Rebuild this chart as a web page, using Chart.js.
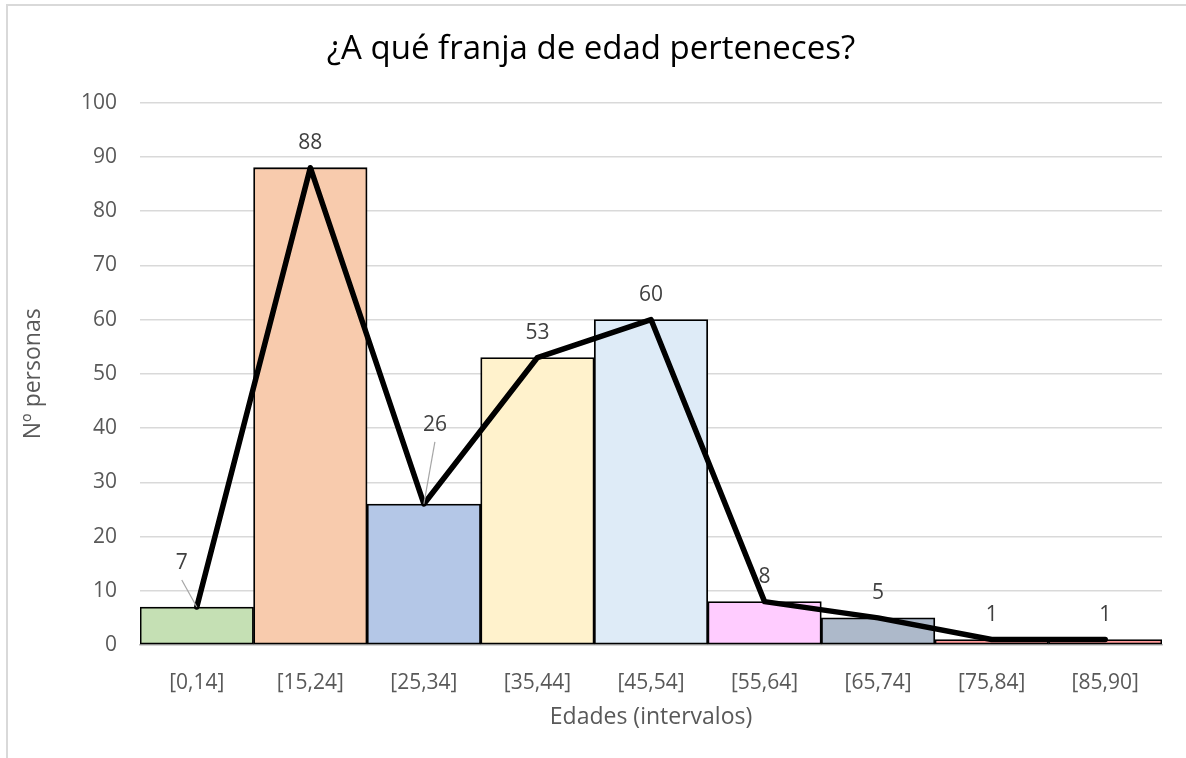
<!DOCTYPE html>
<html>
<head>
<meta charset="utf-8">
<script src="https://cdn.jsdelivr.net/npm/chart.js@4"></script>
<style>
  html, body { margin: 0; padding: 0; background: #fff; overflow: hidden; }
  #frame { position: absolute; left: 6px; top: 4px; width: 1300px; height: 900px; border: 2px solid #d9d9d9; box-sizing: border-box; }
  #myChart { position: absolute; left: 0; top: 0; }
</style>
</head>
<body>
<div id="frame"></div>
<canvas id="myChart" width="1186" height="758"></canvas>
<script>
const categories = ['[0,14]', '[15,24]', '[25,34]', '[35,44]', '[45,54]', '[55,64]', '[65,74]', '[75,84]', '[85,90]'];
const personas = [7, 88, 26, 53, 60, 8, 5, 1, 1];
const barColors = ['#C5E0B4', '#F8CBAD', '#B4C7E7', '#FFF2CC', '#DEEBF7', '#FFCCFF', '#ADB9CA', '#FF9B9B', '#FF9B9B'];

const FONT = "'Open Sans', sans-serif";

// etiquetas de datos encima de los puntos de la linea (dos con linea guia)
const labelOffsets = { 0: [-15, -44, true], 2: [11, -79, true] };
const dataLabels = {
  id: 'dataLabels',
  afterDatasetsDraw(chart) {
    const ctx = chart.ctx;
    const meta = chart.getDatasetMeta(1);
    ctx.save();
    ctx.font = '21px ' + FONT;
    ctx.fillStyle = '#404040';
    ctx.textAlign = 'center';
    ctx.textBaseline = 'middle';
    meta.data.forEach(function (pt, i) {
      const off = labelOffsets[i] || [0, -25, false];
      const lx = pt.x + off[0];
      const ly = pt.y + off[1];
      if (off[2]) {
        ctx.strokeStyle = '#a6a6a6';
        ctx.lineWidth = 1.2;
        ctx.beginPath();
        ctx.moveTo(lx, ly + 17);
        ctx.lineTo(pt.x, pt.y);
        ctx.stroke();
      }
      ctx.fillText(String(personas[i]), lx, ly);
    });
    ctx.restore();
  }
};

const config = {
  data: {
    labels: categories,
    datasets: [
      {
        type: 'bar',
        data: personas,
        backgroundColor: barColors,
        borderColor: '#000',
        borderWidth: 1.8,
        borderSkipped: false,
        categoryPercentage: 1,
        barPercentage: 1,
        order: 2
      },
      {
        type: 'line',
        data: personas,
        borderColor: '#000',
        borderWidth: 5.5,
        pointRadius: 0,
        tension: 0,
        borderJoinStyle: 'round',
        borderCapStyle: 'round',
        order: 1
      }
    ]
  },
  options: {
    responsive: false,
    animation: false,
    devicePixelRatio: 1,
    layout: { padding: { left: 20, right: 24, top: 0, bottom: 0 } },
    plugins: {
      legend: { display: false },
      tooltip: { enabled: false },
      title: {
        display: true,
        text: '¿A qué franja de edad perteneces?',
        color: '#000',
        font: { family: FONT, size: 33, weight: 'normal', lineHeight: 1.2 },
        padding: { top: 30, bottom: 33 }
      }
    },
    scales: {
      x: {
        grid: { display: false },
        border: { display: true, color: '#bfbfbf', width: 1.5 },
        ticks: { color: '#595959', font: { family: FONT, size: 21 }, padding: 17 },
        title: {
          display: true,
          text: 'Edades (intervalos)',
          color: '#595959',
          font: { family: FONT, size: 23 },
          padding: { top: 4, bottom: 27 }
        },
        afterFit(scale) { scale.height = 113; }
      },
      y: {
        min: 0,
        max: 100,
        ticks: { stepSize: 10, color: '#595959', font: { family: FONT, size: 21 }, padding: 23 },
        grid: { color: '#d9d9d9', lineWidth: 1.5, drawTicks: false },
        border: { display: false },
        title: {
          display: true,
          text: 'Nº personas',
          color: '#595959',
          font: { family: FONT, size: 23 },
          padding: { top: 0, bottom: 10 }
        },
        afterFit(scale) { scale.width = 120; }
      }
    }
  },
  plugins: [dataLabels]
};

const myChart = new Chart(document.getElementById('myChart'), config);
</script>
</body>
</html>
